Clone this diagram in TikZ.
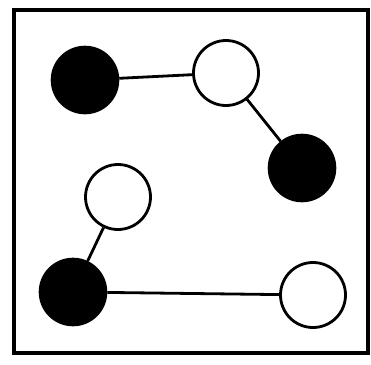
\documentclass[tikz,border=0pt]{standalone}
\begin{document}
\begin{tikzpicture}[x=1pt,y=-1pt,
  blk/.style={circle,draw=black,fill=black,line width=1.6pt,minimum size=67pt,inner sep=0pt},
  wht/.style={circle,draw=black,fill=white,line width=2.8pt,minimum size=65pt,inner sep=0pt},
  link/.style={line width=2.8pt}]
\useasboundingbox (0,0) rectangle (371,364);
\draw[line width=3.5pt] (14,10) rectangle (368,353);
\node[blk] (a) at (85,80) {};
\node[wht] (b) at (226,73) {};
\node[blk] (c) at (302,168) {};
\node[wht] (d) at (118,197) {};
\node[blk] (e) at (73,292) {};
\node[wht] (f) at (313,295) {};
\draw[link] (a) -- (b);
\draw[link] (b) -- (c);
\draw[link] (d) -- (e);
\draw[link] (e) -- (f);
\end{tikzpicture}
\end{document}
